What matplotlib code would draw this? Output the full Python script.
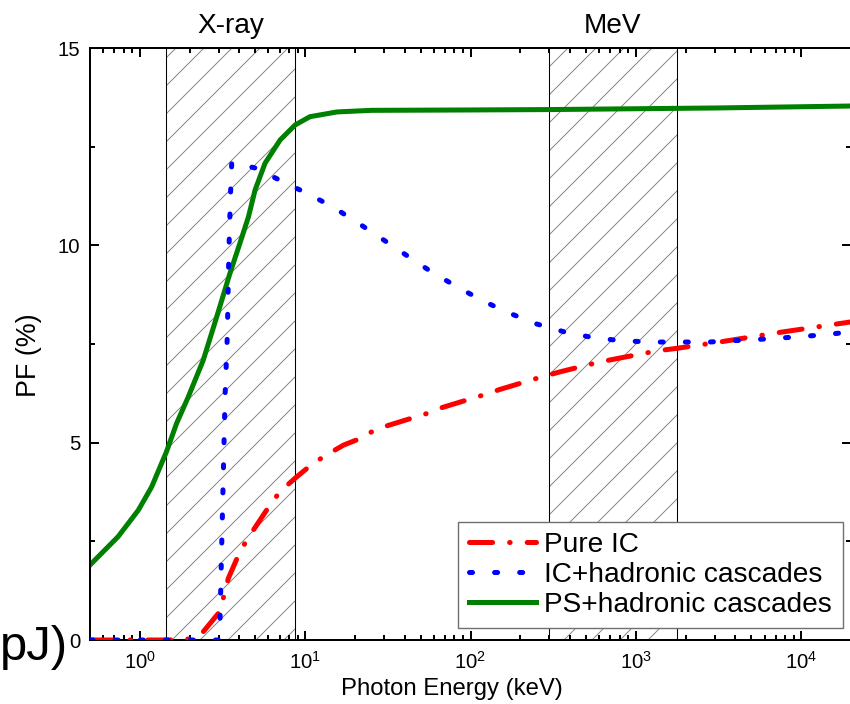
import numpy as np
import matplotlib
matplotlib.use('Agg')
import matplotlib.pyplot as plt
from matplotlib.ticker import LogLocator, MultipleLocator
from matplotlib.transforms import blended_transform_factory

plt.rcParams['font.family'] = ['Liberation Sans', 'DejaVu Sans']
plt.rcParams['mathtext.fontset'] = 'custom'
plt.rcParams['mathtext.rm'] = 'Liberation Sans'
plt.rcParams['mathtext.it'] = 'Liberation Sans:italic'
plt.rcParams['hatch.linewidth'] = 0.8

# данные (keV, PF %)
pure_ic_e = [0.5, 1.9, 2.42, 3.05, 3.43, 3.95, 4.43, 6.13, 7.05, 8.7, 11.2, 14.0, 17.1,
             20.5, 24.2, 29.8, 54.6, 67.4, 120, 151, 271, 352, 612, 1360, 1770, 3320,
             7580, 20000]
pure_ic_pf = [0, 0, 0.21, 0.72, 1.56, 2.15, 2.53, 3.42, 3.76, 4.1, 4.48, 4.73, 4.94,
              5.07, 5.24, 5.4, 5.74, 5.89, 6.21, 6.35, 6.67, 6.8, 7.05, 7.33, 7.39, 7.56,
              7.8, 8.06]

ic_had_e = [0.5, 3.0, 3.05, 3.28, 3.38, 3.46, 3.54, 3.6, 5.1, 7.33, 10.6, 15.0, 21.0,
            29.5, 41.6, 58.9, 83, 119, 170, 250, 367, 552, 831, 1240, 1870, 2770, 4170,
            6270, 9400, 14300, 20000]
ic_had_pf = [0, 0, 0.3, 6.2, 7.67, 9.88, 11.33, 12.1, 11.95, 11.61, 11.29, 10.95, 10.56,
             10.15, 9.73, 9.31, 8.95, 8.59, 8.29, 8.01, 7.81, 7.66, 7.58, 7.55, 7.55, 7.55,
             7.59, 7.63, 7.68, 7.74, 7.81]

ps_had_e = [0.5, 0.74, 0.98, 1.18, 1.45, 1.67, 1.96, 2.42, 2.92, 3.51, 4.03, 4.54, 4.98,
            5.72, 7.06, 8.7, 10.7, 15.6, 25, 100, 300, 3000, 20000]
ps_had_pf = [1.9, 2.62, 3.29, 3.88, 4.77, 5.49, 6.15, 7.09, 8.19, 9.29, 10.05, 10.72,
             11.4, 12.08, 12.67, 13.05, 13.26, 13.38, 13.42, 13.43, 13.44, 13.48, 13.53]

xray_band = (1.44, 8.7)
mev_band = (297, 1770)

DPI = 84
fig = plt.figure(figsize=(850 / DPI, 704 / DPI), dpi=DPI)
ax = fig.add_axes([90 / 850, 1 - 640 / 704, 761 / 850, 592 / 704])

# заштрихованные полосы
for lo, hi in (xray_band, mev_band):
    ax.axvspan(lo, hi, facecolor='none', edgecolor='#808080', hatch='/', lw=0, zorder=1)
    ax.axvspan(lo, hi, facecolor='none', edgecolor='black', lw=0.9, zorder=1.5)

lw = 4.3
ax.plot(pure_ic_e, pure_ic_pf, color='#ff0000', lw=lw, dashes=(4.6, 3.4, 0.1, 3.4),
        dash_capstyle='round', label='Pure IC', zorder=3)
ax.plot(ic_had_e, ic_had_pf, color='#0000ff', lw=lw, dashes=(0.6, 4.4),
        dash_capstyle='round', label='IC+hadronic cascades', zorder=4)
ax.plot(ps_had_e, ps_had_pf, color='#008000', lw=lw, label='PS+hadronic cascades',
        zorder=2)

ax.set_xscale('log')
ax.set_xlim(0.5, 2e4)
ax.set_ylim(0, 15)
ax.yaxis.set_major_locator(MultipleLocator(5))
ax.yaxis.set_minor_locator(MultipleLocator(2.5))
ax.xaxis.set_major_locator(LogLocator(base=10, numticks=20))
ax.xaxis.set_minor_locator(LogLocator(base=10, subs=np.arange(2, 10), numticks=20))

ax.tick_params(which='both', direction='in', top=True, right=True, width=1.7,
               labelsize=17.5)
ax.tick_params(which='major', length=7.5)
ax.tick_params(which='minor', length=4.5)
ax.tick_params(axis='y', pad=8.5)
ax.tick_params(axis='x', pad=9)
for s in ax.spines.values():
    s.set_linewidth(1.7)

ax.set_xlabel('Photon Energy (keV)', fontsize=20.5)
ax.xaxis.set_label_coords((452 - 90) / 761, -(678 - 640) / 592)
ax.set_ylabel('PF (%)', fontsize=23)
ax.yaxis.set_label_coords(-(90 - 42) / 761, (640 - 355) / 592)

tr = blended_transform_factory(ax.transData, ax.transAxes)
ax.text(np.sqrt(xray_band[0] * xray_band[1]), 1.037, 'X-ray', transform=tr,
        ha='center', va='center', fontsize=24)
ax.text(np.sqrt(mev_band[0] * mev_band[1]), 1.037, 'MeV', transform=tr,
        ha='center', va='center', fontsize=24)

fig.text(0.0, 1 - 647 / 704, 'pJ)', fontsize=42, ha='left', va='center')

leg = ax.legend(loc='lower right', bbox_to_anchor=(0.989, 0.02), borderaxespad=0,
                fontsize=24, fancybox=False, framealpha=1, edgecolor='#707070',
                handlelength=2.4, labelspacing=0.13, borderpad=0.38,
                handletextpad=0.3)
leg.get_frame().set_linewidth(1.2)

fig.savefig('out.png', dpi=DPI)
